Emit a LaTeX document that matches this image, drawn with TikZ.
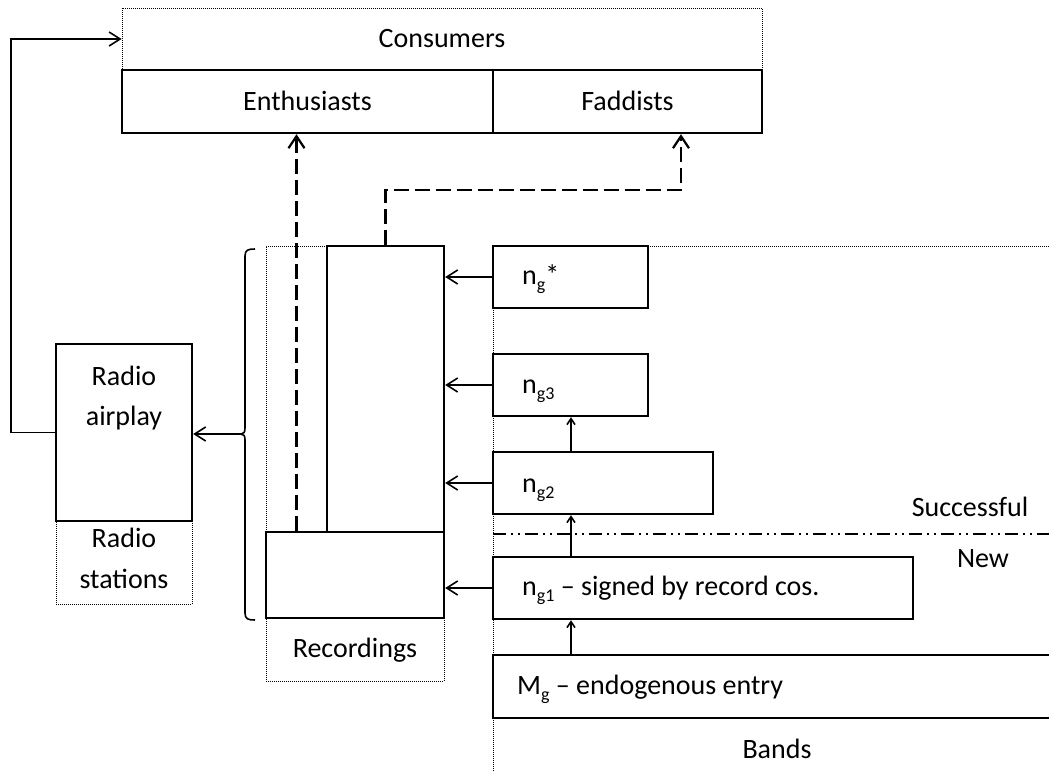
\documentclass[tikz,border=0pt]{standalone}
\usepackage{fontspec}
\setmainfont{Carlito}
\usetikzlibrary{arrows.meta}
\newcommand\lsub[1]{\raisebox{-0.22em}{\fontsize{18}{18}\selectfont #1}}
\begin{document}
\begin{tikzpicture}[x=1pt,y=-1pt,
  every node/.style={font=\fontsize{28}{40}\selectfont},
  solidbox/.style={draw, line width=2.4pt, inner sep=0pt},
  dotbox/.style={draw, line width=0.8pt, dash pattern=on 1pt off 1pt, inner sep=0pt},
  txt/.style={inner sep=0pt, anchor=base west},
  ctxt/.style={inner sep=0pt, anchor=base},
  arr/.style={line width=1.6pt, -{Straight Barb[length=11pt,width=14pt]}},
  sarr/.style={line width=1.6pt, -{Straight Barb[length=6pt,width=8pt]}},
  darr/.style={line width=2.2pt, dash pattern=on 15pt off 6pt, -{Straight Barb[length=12pt,width=16pt]}},
  bracestyle/.style={line width=1.6pt},
  dashdotline/.style={line width=2pt, dash pattern=on 13pt off 5pt on 2pt off 5pt on 2pt off 5pt},
  ]
\useasboundingbox (0,0) rectangle (1049,771);
\clip (0,0) rectangle (1049,771);

% dotted frames
\node[dotbox, minimum width=640pt, minimum height=62pt] (cons) at (442,39) {};
\node[dotbox, minimum width=136pt, minimum height=83pt] (stations) at (124,562.5) {};
\node[dotbox, minimum width=178pt, minimum height=435pt] (recs) at (355,463.5) {};
\node[dotbox, minimum width=567pt, minimum height=534pt] (bands) at (776.5,513) {};

% solid boxes
\node[solidbox, minimum width=371pt, minimum height=63pt] (enth) at (307.5,101.5) {};
\node[solidbox, minimum width=269pt, minimum height=63pt] (fad) at (627.5,101.5) {};
\node[solidbox, minimum width=136pt, minimum height=177pt] (radio) at (124,432.5) {};
\node[solidbox, minimum width=117pt, minimum height=286pt] (tall) at (385.5,389) {};
\node[solidbox, minimum width=178pt, minimum height=86pt] (bot) at (355,575) {};
\node[solidbox, minimum width=155pt, minimum height=62pt] (ngstar) at (570.5,277) {};
\node[solidbox, minimum width=155pt, minimum height=62pt] (ng3) at (570.5,385) {};
\node[solidbox, minimum width=220pt, minimum height=62pt] (ng2) at (603,483) {};
\node[solidbox, minimum width=420pt, minimum height=62pt] (ng1) at (703,588) {};
\node[solidbox, minimum width=567pt, minimum height=63pt] (mg) at (776.5,686.5) {};

% texts
\node[ctxt] (tcons) at (442,47) {Consumers};
\node[ctxt] (tenth) at (307.5,110) {Enthusiasts};
\node[ctxt] (tfad) at (627.5,110) {Faddists};
\node[ctxt] (tradio1) at (124,385) {Radio};
\node[ctxt] (tradio2) at (124,425) {airplay};
\node[ctxt] (tstat1) at (124,547) {Radio};
\node[ctxt] (tstat2) at (124,588) {stations};
\node[ctxt] (trecs) at (355,657) {Recordings};
\node[ctxt] (tbands) at (777,758) {Bands};
\node[ctxt] (tsucc) at (970,516) {Successful};
\node[ctxt] (tnew) at (983,567) {New};
\node[txt] (tngstar) at (522,284) {n\lsub{g}*};
\node[txt] (tng3) at (522,393) {n\lsub{g3}};
\node[txt] (tng2) at (522,492) {n\lsub{g2}};
\node[txt] (tng1) at (522,595) {n\lsub{g1} -- signed by record cos.};
\node[txt] (tmg) at (517,694) {M\lsub{g} -- endogenous entry};

% dash-dot separator
\coordinate (ddl) at (493,534);
\coordinate (ddr) at (1060,534);
\draw[dashdotline] (ddl) -- (ddr);

% brace
\coordinate (bracetip) at (241,434);
\draw[bracestyle] (255,249) .. controls (248,249) and (245,250) .. (245,256)
  -- (245,428) .. controls (245,432) and (244,434) .. (bracetip)
  .. controls (244,434) and (245,436) .. (245,440)
  -- (245,613) .. controls (245,619) and (248,620) .. (255,620);

% connectors
\draw[arr] (bracetip) -- (radio.east |- bracetip);
\draw[arr] (radio.west) -- ++(-44,0) |- (cons.west);
\draw[arr] (ngstar.west) -- (ngstar.west -| tall.east);
\draw[arr] (ng3.west) -- (ng3.west -| tall.east);
\draw[arr] (ng2.west) -- (ng2.west -| tall.east);
\draw[arr] (ng1.west) -- (ng1.west -| bot.east);
\coordinate (vx) at (571,0);
\draw[sarr] (ng2.north -| vx) -- (ng3.south -| vx);
\draw[sarr] (ng1.north -| vx) -- (ng2.south -| vx);
\draw[sarr] (mg.north -| vx) -- (ng1.south -| vx);
\coordinate (dx) at (296.5,0);
\draw[darr] (bot.north -| dx) -- (enth.south -| dx);
\coordinate (turn) at (681,190);
\draw[darr] (tall.north) |- (turn) -- (fad.south -| turn);
\end{tikzpicture}
\end{document}
